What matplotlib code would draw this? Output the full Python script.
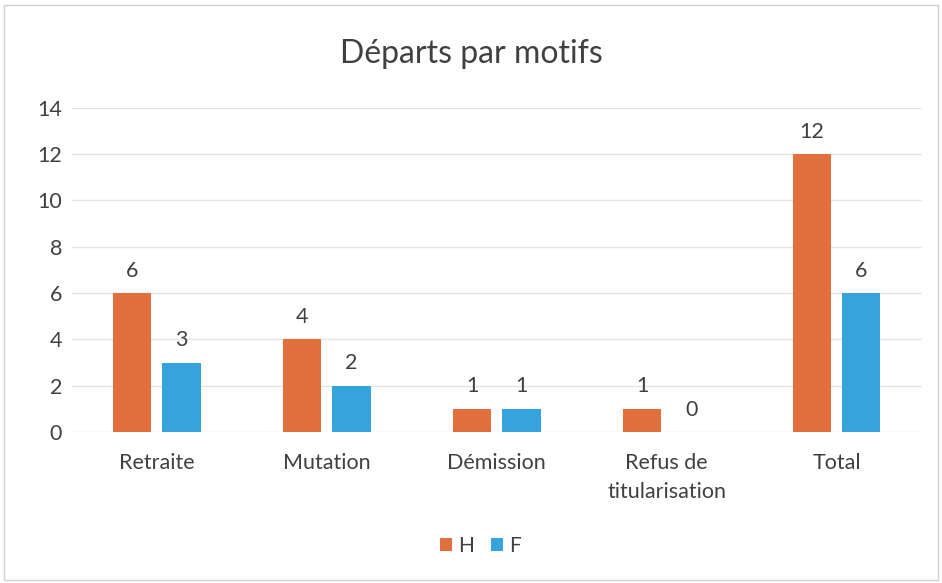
import matplotlib.pyplot as plt
import numpy as np
from matplotlib.patches import Rectangle

# data
categories = ['Retraite', 'Mutation', 'Démission', 'Refus de\ntitularisation', 'Total']
h_values = [6, 4, 1, 1, 12]
f_values = [3, 2, 1, 0, 6]
series_names = ['H', 'F']
y_ticks = [0, 2, 4, 6, 8, 10, 12, 14]

orange = '#E2703F'
blue = '#35A4DD'
text_col = '#404040'

plt.rcParams['font.family'] = ['Lato', 'DejaVu Sans']

fig = plt.figure(figsize=(9.42, 5.83), dpi=100)
ax = fig.add_axes([0.0764, 0.259, 0.902, 0.556])

x = np.arange(len(categories))
w = 0.225
off = 0.145
bars_h = ax.bar(x - off, h_values, w, color=orange, label=series_names[0], zorder=3)
bars_f = ax.bar(x + off, f_values, w, color=blue, label=series_names[1], zorder=3)

for bars in (bars_h, bars_f):
    for b in bars:
        ax.annotate(str(int(b.get_height())), (b.get_x() + b.get_width() / 2, b.get_height()),
                    xytext=(0, 9), textcoords='offset points', ha='center', va='bottom',
                    fontsize=15.5, color=text_col)

ax.set_xlim(-0.5, len(categories) - 0.5)
ax.set_ylim(0, 14)
ax.set_yticks(y_ticks)
ax.set_xticks(x)
ax.set_xticklabels(categories, fontsize=15.5, color=text_col, linespacing=1.6)
ax.tick_params(axis='y', labelsize=15.5, labelcolor=text_col, length=0, pad=7)
ax.tick_params(axis='x', length=0, pad=15)
ax.grid(axis='y', color='#E4E4E4', linewidth=1, zorder=0)
for sp in ax.spines.values():
    sp.set_visible(False)

fig.text(0.5, 0.908, 'Départs par motifs', ha='center', va='center', fontsize=23, color=text_col)

fig.legend(loc='center', bbox_to_anchor=(0.51, 0.064), ncol=2, frameon=False, fontsize=15,
           handlelength=0.6, handleheight=0.6, handletextpad=0.3, columnspacing=0.8,
           labelcolor=text_col)

fig.patches.append(Rectangle((0.004, 0.006), 0.992, 0.985, transform=fig.transFigure,
                             fill=False, edgecolor='#D0D0D0', linewidth=1))

fig.savefig('out.png', dpi=100)
